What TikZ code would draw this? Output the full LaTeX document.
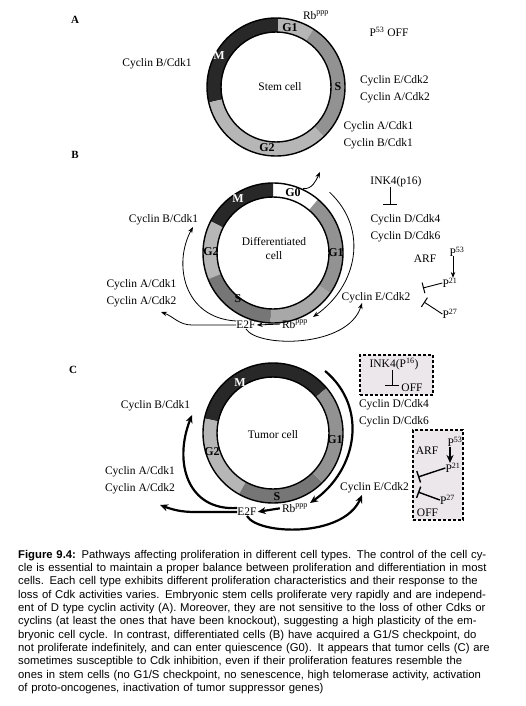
\documentclass[tikz,border=0pt]{standalone}
\usepackage{fontspec}
\setmainfont{Liberation Serif}
\newfontfamily\capfont{Liberation Sans}
\usetikzlibrary{arrows.meta,calc}
\definecolor{phasedark}{RGB}{40,40,40}
\definecolor{phaselight}{RGB}{182,182,182}
\definecolor{phasemid}{RGB}{146,146,146}
\definecolor{phasedeep}{RGB}{118,118,118}
\definecolor{phasepale}{RGB}{168,168,168}
\definecolor{offfill}{RGB}{236,231,235}

\begin{document}
\begin{tikzpicture}[x=1pt,y=1pt,
  lbl/.style={font=\fontsize{11.5}{17}\selectfont,inner sep=0pt,align=left},
  cellname/.style={font=\fontsize{11.5}{14}\selectfont,inner sep=0pt,align=center},
  phase/.style={font=\bfseries\fontsize{12}{12}\selectfont,inner sep=0pt},
  panel/.style={font=\bfseries\fontsize{11}{11}\selectfont,inner sep=0pt},
  ring/.style={line width=1.4pt},
  flowB/.style={line width=0.8pt,-{Stealth[length=6pt,width=4.5pt]}},
  flowC/.style={line width=2.2pt,-{Stealth[length=8pt,width=7pt]}},
  inhib/.style={line width=0.9pt,-{Bar[width=14pt,line width=1pt]}},
  offbox/.style={draw,line width=1.3pt,dash pattern=on 3pt off 2pt,fill=offfill,inner sep=0pt}]
\fill[white] (0,0) rectangle (526,-706);
\useasboundingbox (0,0) rectangle (526,-706);

% TOP: stem cell (A)
\begin{scope}[shift={(276,-87)}]
\node[panel] (labA) at (-201,67) {A};
% phases of the ring
\foreach \a/\b/\col in {88/193/phasedark,57/88/phaselight,-46/57/phasemid,-167/-46/phaselight} {
  \fill[\col] (\a:69) arc[start angle=\a,end angle=\b,radius=69pt] -- (\b:55) arc[start angle=\b,end angle=\a,radius=55pt] -- cycle;
}
\draw[ring] (0,0) circle (69pt) (0,0) circle (55pt);
\node[phase] (g1A) at (14,59) {G1};
\node[phase] (sA) at (62,0) {S};
\node[phase] (g2A) at (-9,-61) {G2};
\node[phase,white] (mA) at (-57,31) {M};
\node[cellname] (stemA) at (4,0) {Stem cell};
\node[lbl] (rbA) at (40,72) {Rb\textsuperscript{ppp}};
\node[lbl] (cbA) at (-119,23) {Cyclin B/Cdk1};
\node[lbl] (p53A) at (113,55) {P\textsuperscript{53} OFF};
\node[lbl] (ceA) at (119,-2.5) {Cyclin E/Cdk2\\Cyclin A/Cdk2};
\node[lbl] (caA) at (102.5,-48) {Cyclin A/Cdk1\\Cyclin B/Cdk1};
\end{scope}

% MIDDLE: differentiated cell (B)
\begin{scope}[shift={(273,-253)}]
\node[panel] (labB) at (-198,98) {B};
\foreach \a/\b/\col in {90/153/phasedark,153/202/phaselight,202/268/phasedeep,268/325/phasepale,-35/50/phasemid} {
  \fill[\col] (\a:70) arc[start angle=\a,end angle=\b,radius=70pt] -- (\b:56) arc[start angle=\b,end angle=\a,radius=56pt] -- cycle;
}
\draw[ring] (0,0) circle (70pt) (0,0) circle (56pt);
\node[phase,white] (mB) at (-35,54) {M};
\node[phase] (g0B) at (20,60) {G0};
\node[phase] (g2B) at (-62,1) {G2};
\node[phase] (g1B) at (63,0) {G1};
\node[phase] (sB) at (-35,-46) {S};
\node[cellname] (diffB) at (1,4) {Differentiated\\cell};
\node[lbl] (rbB) at (22,-71) {Rb\textsuperscript{ppp}};
\node[lbl] (e2fB) at (-27,-72) {E2F};
\node[lbl] (cbB) at (-109.5,33) {Cyclin B/Cdk1};
\node[lbl] (caB) at (-131.5,-40.5) {Cyclin A/Cdk1\\Cyclin A/Cdk2};
\node[lbl] (ceB) at (103,-45) {Cyclin E/Cdk2};
\node[lbl] (inkB) at (123,71) {INK4(p16)};
\node[lbl] (cdB) at (132.5,25) {Cyclin D/Cdk4\\Cyclin D/Cdk6};
\node[lbl] (arfB) at (152,-6) {ARF};
\node[lbl] (p53B) at (184,1) {P\textsuperscript{53}};
\node[lbl] (p21B) at (177,-30) {P\textsuperscript{21}};
\node[lbl] (p27B) at (177,-61) {P\textsuperscript{27}};
% exit to G0
\coordinate (outB) at (65:71);
\coordinate (outendB) at (47,81);
\draw[flowB] (outB) to[out=-5,in=-115] (outendB);
% G1 round to Rb
\coordinate (arcB) at (47:83);
\coordinate (tipB) at (40,-64);
\draw[flowB] (arcB) to[out=-43,in=35,looseness=1.1] (tipB);
\draw[flowB,shorten <=2pt,shorten >=1pt] (rbB.west) -- (e2fB.east);
\coordinate (caendB) at (-112,-59);
\draw[flowB] (e2fB.west) -- ++(-44,0) to[out=180,in=-20] (caendB);
\coordinate (cbendB) at (-80,26);
\draw[flowB] (e2fB.north west) .. controls (-90,-65) and (-100,-10) .. (cbendB);
\coordinate (ceendB) at (89,-50);
\draw[flowB] (e2fB.south) .. controls (-15,-95) and (75,-95) .. (ceendB);
% inhibitors
\coordinate (tB) at (117,48);
\draw[inhib] (inkB.south -| tB) -- (tB);
\coordinate (arB) at (180,-3);
\draw[flowB] (arB) -- (arB |- p21B.north);
\coordinate (i21B) at (150,-35);
\draw[inhib,-{Bar[width=11pt,line width=1pt]}] (p21B.west) -- (i21B);
\coordinate (i27B) at (151,-49);
\draw[inhib,-{Bar[width=11pt,line width=1pt]}] (p27B.west) -- (i27B);
\end{scope}

% BOTTOM: tumor cell (C)
\begin{scope}[shift={(273,-433)}]
\node[panel] (labC) at (-200,63) {C};
\foreach \a/\b/\col in {40/168/phasedark,168/241/phaselight,241/315/phasedeep,-45/40/phasemid} {
  \fill[\col] (\a:70) arc[start angle=\a,end angle=\b,radius=70pt] -- (\b:56) arc[start angle=\b,end angle=\a,radius=56pt] -- cycle;
}
\draw[ring] (0,0) circle (70pt) (0,0) circle (56pt);
\node[phase,white] (mC) at (-33,50) {M};
\node[phase] (g2C) at (-61,-19) {G2};
\node[phase] (g1C) at (62,-7) {G1};
\node[phase] (sC) at (4,-64) {S};
\node[cellname] (tumC) at (0,-2) {Tumor cell};
% switched-off boxes
\node[offbox,minimum width=73pt,minimum height=40pt] (inkbox) at (123.5,58) {};
\node[offbox,minimum width=50pt,minimum height=90pt] (arfbox) at (165,-42) {};
\node[lbl] (inkC) at (121,69) {INK4(P\textsuperscript{16})};
\coordinate (tC) at (119,47);
\draw[inhib] (inkC.south -| tC) -- (tC);
\node[lbl] (offC) at (139,45) {OFF};
\node[lbl] (cdC) at (121,19.5) {Cyclin D/Cdk4\\Cyclin D/Cdk6};
\node[lbl] (arfC) at (154,-18) {ARF};
\node[lbl] (p53C) at (182,-9) {P\textsuperscript{53}};
\node[lbl] (p21C) at (180,-35) {P\textsuperscript{21}};
\node[lbl] (p27C) at (174.5,-67) {P\textsuperscript{27}};
\node[lbl] (offCb) at (154.5,-80) {OFF};
\coordinate (arC) at (177,-14);
\draw[flowC,line width=1.4pt] (arC) -- (arC |- p21C.north);
\coordinate (i21C) at (145,-44);
\draw[inhib,line width=1.4pt,-{Bar[width=12pt,line width=1.4pt]}] (p21C.west) -- (i21C);
\coordinate (i27C) at (145,-59);
\draw[inhib,line width=1.4pt,-{Bar[width=12pt,line width=1.4pt]}] (p27C.west) -- (i27C);
% cycle arrows
\node[lbl] (rbC) at (22,-75) {Rb\textsuperscript{ppp}};
\node[lbl] (e2fC) at (-26,-79) {E2F};
\node[lbl] (cbC) at (-117.5,27) {Cyclin B/Cdk1};
\node[lbl] (caC) at (-133,-47) {Cyclin A/Cdk1\\Cyclin A/Cdk2};
\node[lbl] (ceC) at (101.5,-55) {Cyclin E/Cdk2};
\coordinate (arcC) at (50:81);
\coordinate (tipC) at (37,-70);
\draw[flowC] (arcC) to[out=-40,in=35,looseness=1.1] (tipC);
\draw[flowC,shorten <=2pt,shorten >=1pt] (rbC.west) -- (e2fC.east);
\coordinate (caendC) at (-113,-72);
\draw[flowC] (e2fC.west) -- ++(-42,0) to[out=180,in=-20] (caendC);
\coordinate (cbendC) at (-81,18);
\draw[flowC] (e2fC.north west) .. controls (-85,-78) and (-100,-30) .. (cbendC);
\coordinate (ceendC) at (89,-62);
\draw[flowC] (e2fC.south) .. controls (-15,-102) and (70,-105) .. (ceendC);
\end{scope}

% caption
\node[anchor=north west,inner sep=0pt,text width=487pt,align=left,font=\capfont\fontsize{11.3}{13.3}\selectfont] (cap) at (18,-550) {%
\makebox[\linewidth][s]{\textbf{Figure 9.4:} Pathways affecting proliferation in different cell types. The control of the cell cy-}\\
\makebox[\linewidth][s]{cle is essential to maintain a proper balance between proliferation and differentiation in most}\\
\makebox[\linewidth][s]{cells. Each cell type exhibits different proliferation characteristics and their response to the}\\
\makebox[\linewidth][s]{loss of Cdk activities varies. Embryonic stem cells proliferate very rapidly and are independ-}\\
\makebox[\linewidth][s]{ent of D type cyclin activity (A). Moreover, they are not sensitive to the loss of other Cdks or}\\
\makebox[\linewidth][s]{cyclins (at least the ones that have been knockout), suggesting a high plasticity of the em-}\\
\makebox[\linewidth][s]{bryonic cell cycle. In contrast, differentiated cells (B) have acquired a G1/S checkpoint, do}\\
\makebox[\linewidth][s]{not proliferate indefinitely, and can enter quiescence (G0). It appears that tumor cells (C) are}\\
\makebox[\linewidth][s]{sometimes susceptible to Cdk inhibition, even if their proliferation features resemble the}\\
\makebox[\linewidth][s]{ones in stem cells (no G1/S checkpoint, no senescence, high telomerase activity, activation}\\
of proto-oncogenes, inactivation of tumor suppressor genes)};
\end{tikzpicture}
\end{document}
